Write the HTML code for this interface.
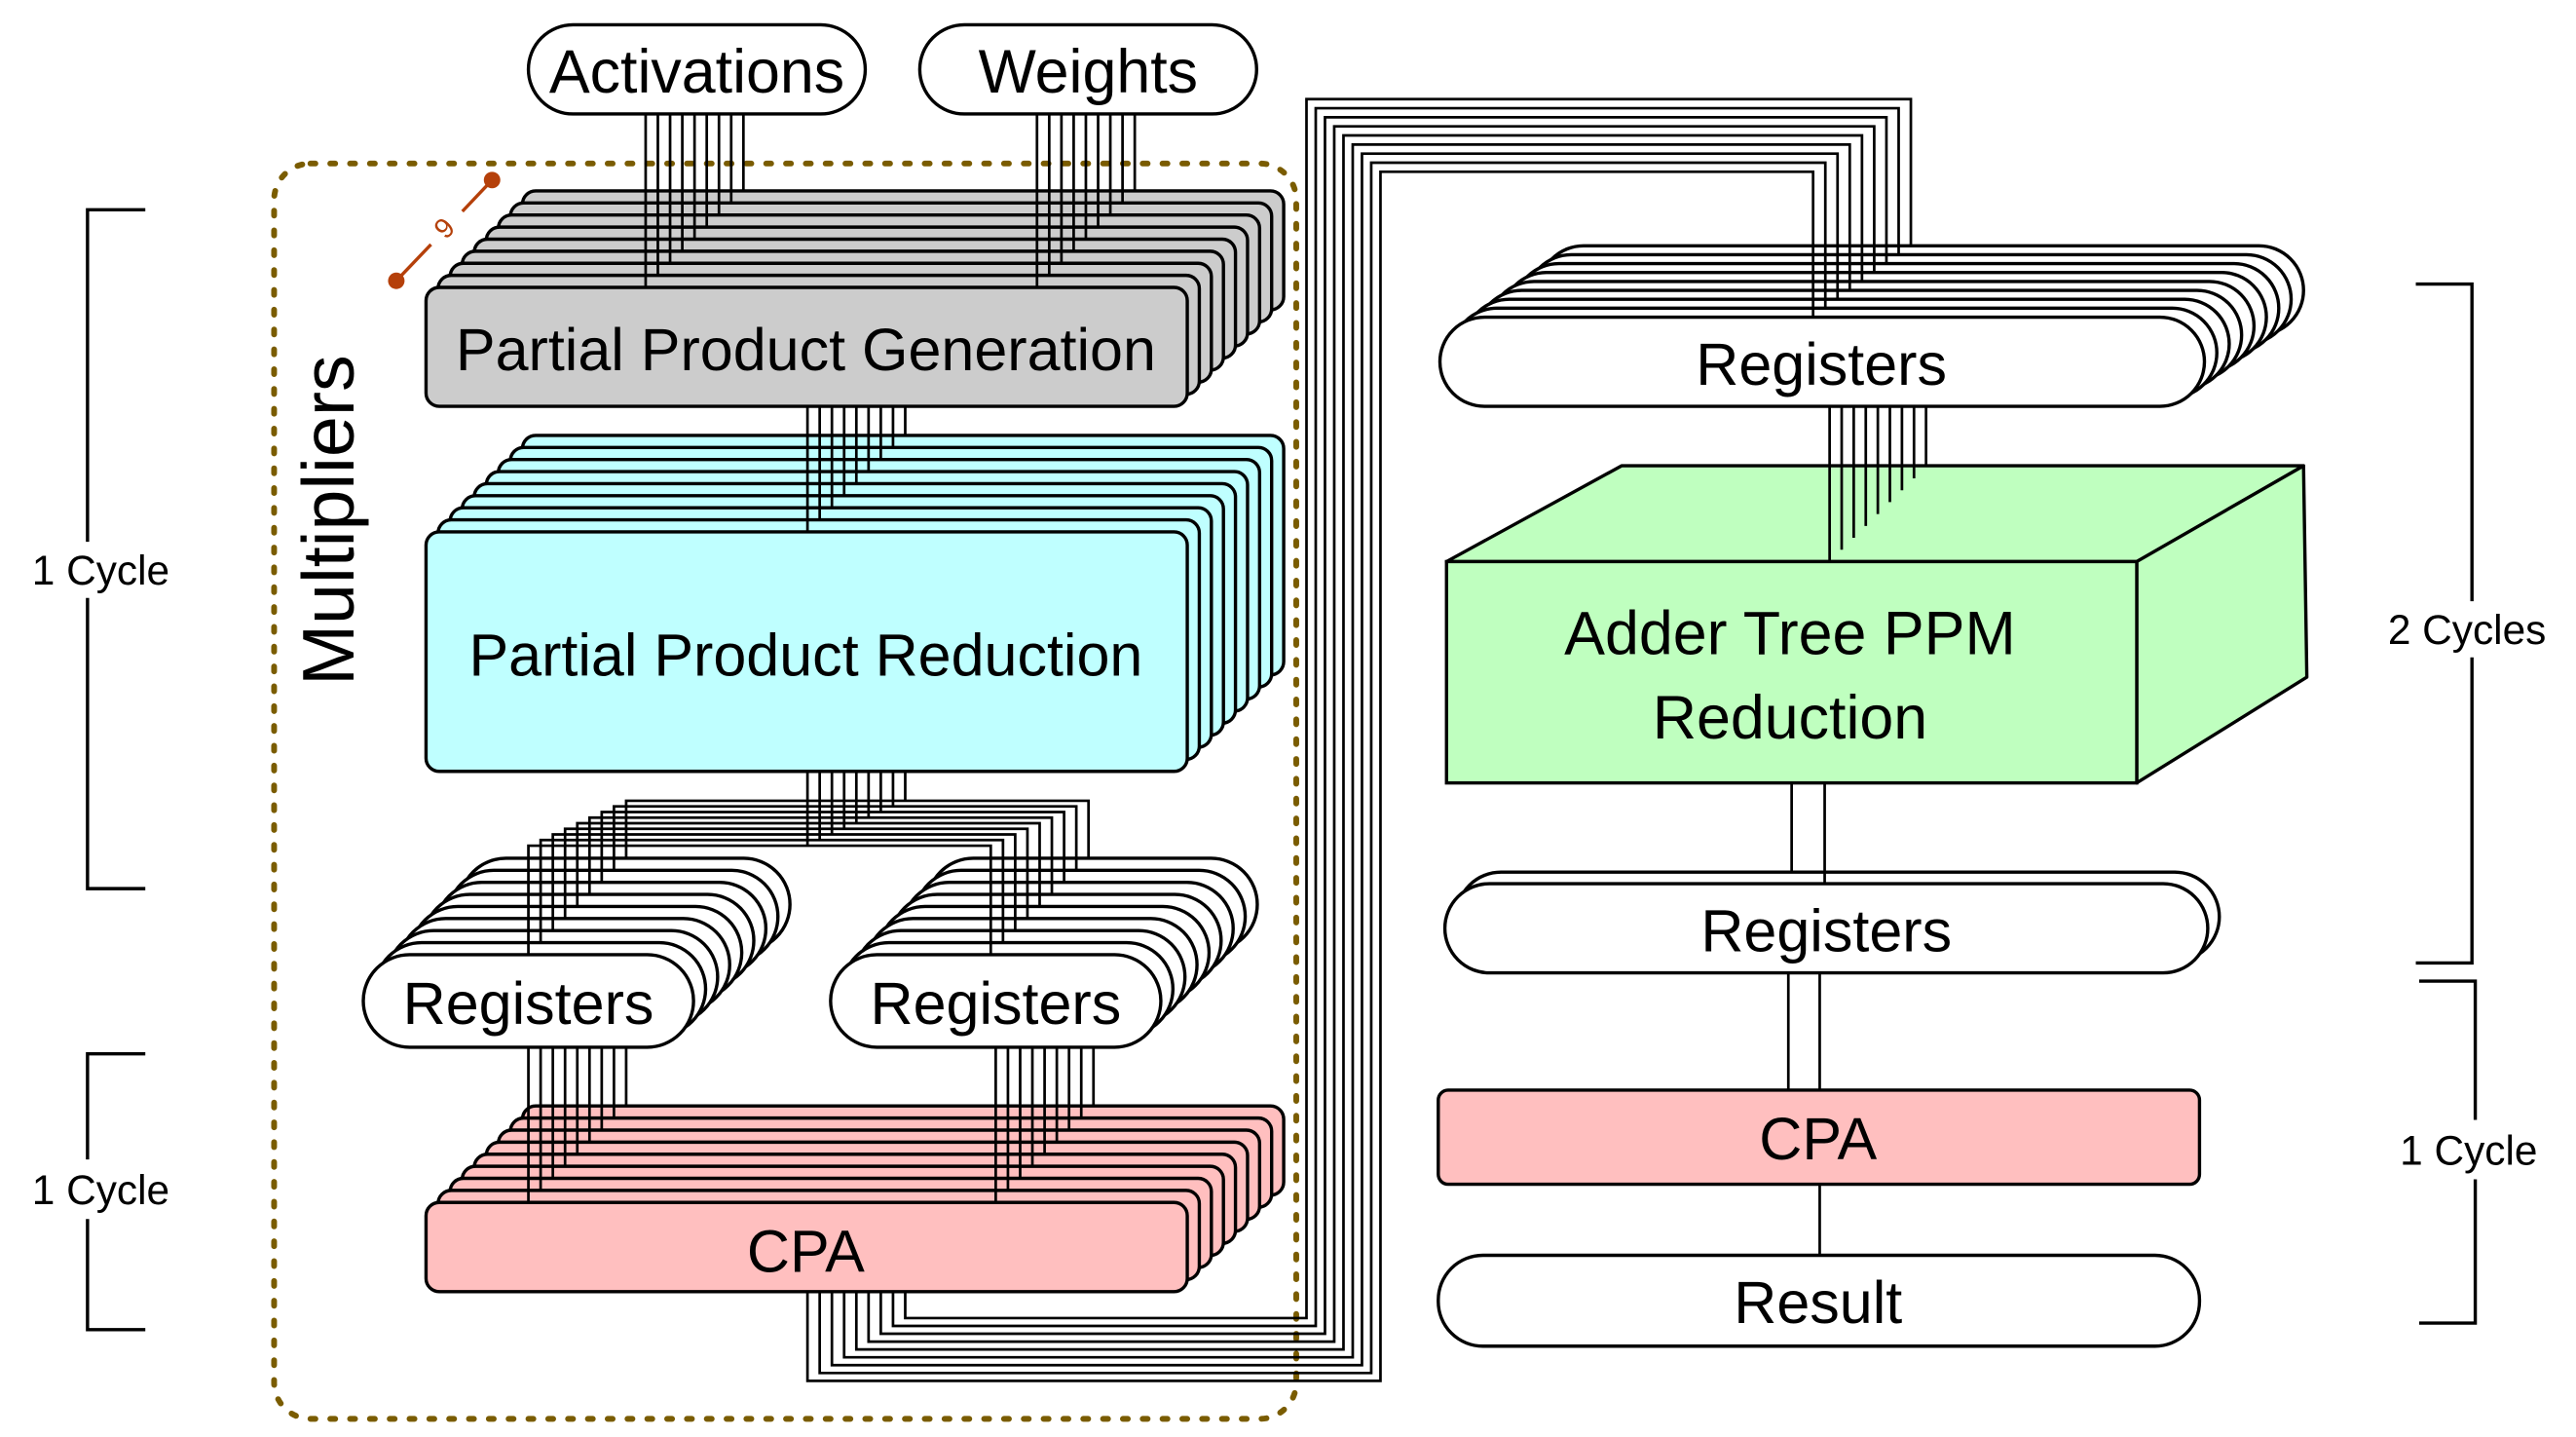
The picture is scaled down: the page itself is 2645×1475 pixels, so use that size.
<!DOCTYPE html>
<html><head><meta charset="utf-8"><style>
html,body{margin:0;padding:0;background:#fff;}
svg{display:block;}
text{font-family:"Liberation Sans",sans-serif;fill:#000;}
</style></head><body>
<svg width="2645" height="1475" viewBox="0 0 1560 870" preserveAspectRatio="none" xmlns="http://www.w3.org/2000/svg">
<defs>
<rect id="ppg" width="461" height="72" rx="8" fill="#cccccc" stroke="#000" stroke-width="2"/>
<rect id="ppr" width="461" height="145" rx="8" fill="#bfffff" stroke="#000" stroke-width="2"/>
<rect id="cpa" width="461" height="54" rx="8" fill="#ffbfbf" stroke="#000" stroke-width="2"/>
<rect id="regs" width="200" height="56" rx="28" fill="#fff" stroke="#000" stroke-width="2"/>
<rect id="regr" width="463" height="54" rx="27" fill="#fff" stroke="#000" stroke-width="2"/>
</defs>

<rect x="166" y="99" width="619" height="760" rx="22" fill="none" stroke="#7a5c00" stroke-width="3.5" stroke-dasharray="3 9" stroke-linecap="round"/>

<rect x="320" y="15" width="204" height="54" rx="27" fill="#fff" stroke="#000" stroke-width="2"/>
<text x="422" y="56" font-size="37" text-anchor="middle">Activations</text>
<rect x="557" y="15" width="204" height="54" rx="27" fill="#fff" stroke="#000" stroke-width="2"/>
<text x="659" y="56" font-size="37" text-anchor="middle">Weights</text>

<g>
<use href="#ppg" x="316.4" y="115.6"/><use href="#ppg" x="309.1" y="122.9"/><use href="#ppg" x="301.8" y="130.2"/><use href="#ppg" x="294.5" y="137.5"/><use href="#ppg" x="287.2" y="144.8"/><use href="#ppg" x="279.9" y="152.1"/><use href="#ppg" x="272.6" y="159.4"/><use href="#ppg" x="265.3" y="166.7"/><use href="#ppg" x="258" y="174"/>
</g>
<text x="488" y="224" font-size="36" text-anchor="middle">Partial Product Generation</text>

<g>
<use href="#ppr" x="316.4" y="263.6"/><use href="#ppr" x="309.1" y="270.9"/><use href="#ppr" x="301.8" y="278.2"/><use href="#ppr" x="294.5" y="285.5"/><use href="#ppr" x="287.2" y="292.8"/><use href="#ppr" x="279.9" y="300.1"/><use href="#ppr" x="272.6" y="307.4"/><use href="#ppr" x="265.3" y="314.7"/><use href="#ppr" x="258" y="322"/>
</g>
<text x="488" y="409" font-size="36" text-anchor="middle">Partial Product Reduction</text>

<g>
<use href="#regs" x="278.4" y="519.6"/><use href="#regs" x="271.1" y="526.9"/><use href="#regs" x="263.8" y="534.2"/><use href="#regs" x="256.5" y="541.5"/><use href="#regs" x="249.2" y="548.8"/><use href="#regs" x="241.9" y="556.1"/><use href="#regs" x="234.6" y="563.4"/><use href="#regs" x="227.3" y="570.7"/><use href="#regs" x="220" y="578"/>
<use href="#regs" x="561.4" y="519.6"/><use href="#regs" x="554.1" y="526.9"/><use href="#regs" x="546.8" y="534.2"/><use href="#regs" x="539.5" y="541.5"/><use href="#regs" x="532.2" y="548.8"/><use href="#regs" x="524.9" y="556.1"/><use href="#regs" x="517.6" y="563.4"/><use href="#regs" x="510.3" y="570.7"/><use href="#regs" x="503" y="578"/>
</g>
<text x="320" y="620" font-size="36" text-anchor="middle">Registers</text>
<text x="603" y="620" font-size="36" text-anchor="middle">Registers</text>

<g>
<use href="#cpa" x="316.4" y="669.6"/><use href="#cpa" x="309.1" y="676.9"/><use href="#cpa" x="301.8" y="684.2"/><use href="#cpa" x="294.5" y="691.5"/><use href="#cpa" x="287.2" y="698.8"/><use href="#cpa" x="279.9" y="706.1"/><use href="#cpa" x="272.6" y="713.4"/><use href="#cpa" x="265.3" y="720.7"/><use href="#cpa" x="258" y="728"/>
</g>
<text x="488" y="770" font-size="36" text-anchor="middle">CPA</text>

<g>
<use href="#regr" x="932" y="148.8"/><use href="#regr" x="924.5" y="154.2"/><use href="#regr" x="917" y="159.6"/><use href="#regr" x="909.5" y="165"/><use href="#regr" x="902" y="170.4"/><use href="#regr" x="894.5" y="175.8"/><use href="#regr" x="887" y="181.2"/><use href="#regr" x="879.5" y="186.6"/><use href="#regr" x="872" y="192"/>
</g>
<text x="1103" y="233" font-size="36" text-anchor="middle">Registers</text>

<polygon points="876,340 982,282 1395,282 1294,340" fill="#bfffbf" stroke="#000" stroke-width="2" stroke-linejoin="round"/>
<polygon points="1294,340 1395,282 1397,410 1294,474" fill="#bfffbf" stroke="#000" stroke-width="2" stroke-linejoin="round"/>
<rect x="876" y="340" width="418" height="134" fill="#bfffbf" stroke="#000" stroke-width="2"/>
<text x="1084" y="396" font-size="37" text-anchor="middle">Adder Tree PPM</text>
<text x="1084" y="447" font-size="37" text-anchor="middle">Reduction</text>

<rect x="882" y="528" width="462" height="54" rx="27" fill="#fff" stroke="#000" stroke-width="2"/>
<rect x="875" y="535" width="462" height="54" rx="27" fill="#fff" stroke="#000" stroke-width="2"/>
<text x="1106" y="576" font-size="36" text-anchor="middle">Registers</text>
<rect x="871" y="660" width="461" height="57" rx="6" fill="#ffbfbf" stroke="#000" stroke-width="2"/>
<text x="1101" y="702" font-size="36" text-anchor="middle">CPA</text>
<rect x="871" y="760" width="461" height="55" rx="27" fill="#fff" stroke="#000" stroke-width="2"/>
<text x="1101" y="801" font-size="36" text-anchor="middle">Result</text>

<g fill="none" stroke="#000" stroke-width="1.6">
<path d="M391,69V174M398.4,69V166.7M405.8,69V159.4M413.2,69V152.1M420.6,69V144.8M428,69V137.5M435.4,69V130.2M442.8,69V122.9M450.2,69V115.6"/>
<path d="M628,69V174M635.4,69V166.7M642.8,69V159.4M650.2,69V152.1M657.6,69V144.8M665,69V137.5M672.4,69V130.2M679.8,69V122.9M687.2,69V115.6"/>
<path d="M489,246V322M496.4,246V314.7M503.8,246V307.4M511.2,246V300.1M518.6,246V292.8M526,246V285.5M533.4,246V278.2M540.8,246V270.9M548.2,246V263.6"/>
<path d="M489,467V512M320,578V512H600V578"/>
<path d="M496.4,467V508.6M327.4,570.7V508.6H607.4V570.7"/>
<path d="M503.8,467V505.2M334.8,563.4V505.2H614.8V563.4"/>
<path d="M511.2,467V501.8M342.2,556.1V501.8H622.2V556.1"/>
<path d="M518.6,467V498.4M349.6,548.8V498.4H629.6V548.8"/>
<path d="M526,467V495M357,541.5V495H637V541.5"/>
<path d="M533.4,467V491.6M364.4,534.2V491.6H644.4V534.2"/>
<path d="M540.8,467V488.2M371.8,526.9V488.2H651.8V526.9"/>
<path d="M548.2,467V484.8M379.2,519.6V484.8H659.2V519.6"/>
<path d="M320,634V728M327.4,634V720.7M334.8,634V713.4M342.2,634V706.1M349.6,634V698.8M357,634V691.5M364.4,634V684.2M371.8,634V676.9M379.2,634V669.6"/>
<path d="M603,634V728M610.4,634V720.7M617.8,634V713.4M625.2,634V706.1M632.6,634V698.8M640,634V691.5M647.4,634V684.2M654.8,634V676.9M662.2,634V669.6"/>
<path d="M489,782V836H836V104H1098V192"/>
<path d="M496.4,782V831.25H830.4V98.5H1105.4V186.6"/>
<path d="M503.8,782V826.5H824.8V93H1112.8V181.2"/>
<path d="M511.2,782V821.75H819.2V87.5H1120.2V175.8"/>
<path d="M518.6,782V817H813.6V82H1127.6V170.4"/>
<path d="M526,782V812.25H808V76.5H1135V165"/>
<path d="M533.4,782V807.5H802.4V71H1142.4V159.6"/>
<path d="M540.8,782V802.75H796.8V65.5H1149.8V154.2"/>
<path d="M548.2,782V798H791.2V60H1157.2V148.8"/>
<path d="M1108,246V340M1115.3,246V332.8M1122.6,246V325.6M1129.9,246V318.4M1137.2,246V311.2M1144.5,246V304M1151.8,246V296.8M1159.1,246V289.6M1166.4,246V282.4"/>
<path d="M1085,474V528M1105,474V535M1083,589V660M1102,589V660M1102,717V760"/>
</g>

<text transform="translate(214,315) rotate(-90)" font-size="44.5" text-anchor="middle">Multipliers</text>

<g stroke="#b5400a" stroke-width="2" fill="#b5400a">
<line x1="240" y1="170" x2="261" y2="148"/>
<line x1="280" y1="128" x2="298" y2="109"/>
<circle cx="240" cy="170" r="5" stroke="none"/>
<circle cx="298" cy="109" r="5" stroke="none"/>
</g>
<text transform="translate(270,139) rotate(-45)" font-size="17" text-anchor="middle" dominant-baseline="middle" style="fill:#b5400a">9</text>

<g fill="none" stroke="#000" stroke-width="2">
<path d="M88,127H53V328M53,362V538H88"/>
<path d="M88,638H53V702M53,738V805H88"/>
<path d="M1463,172H1497V364M1497,398V583H1463"/>
<path d="M1465,594H1499V678M1499,714V801H1465"/>
</g>
<text x="61" y="354" font-size="25" text-anchor="middle">1 Cycle</text>
<text x="61" y="729" font-size="25" text-anchor="middle">1 Cycle</text>
<text x="1494" y="390" font-size="25" text-anchor="middle">2 Cycles</text>
<text x="1495" y="705" font-size="25" text-anchor="middle">1 Cycle</text>
</svg>
</body></html>
